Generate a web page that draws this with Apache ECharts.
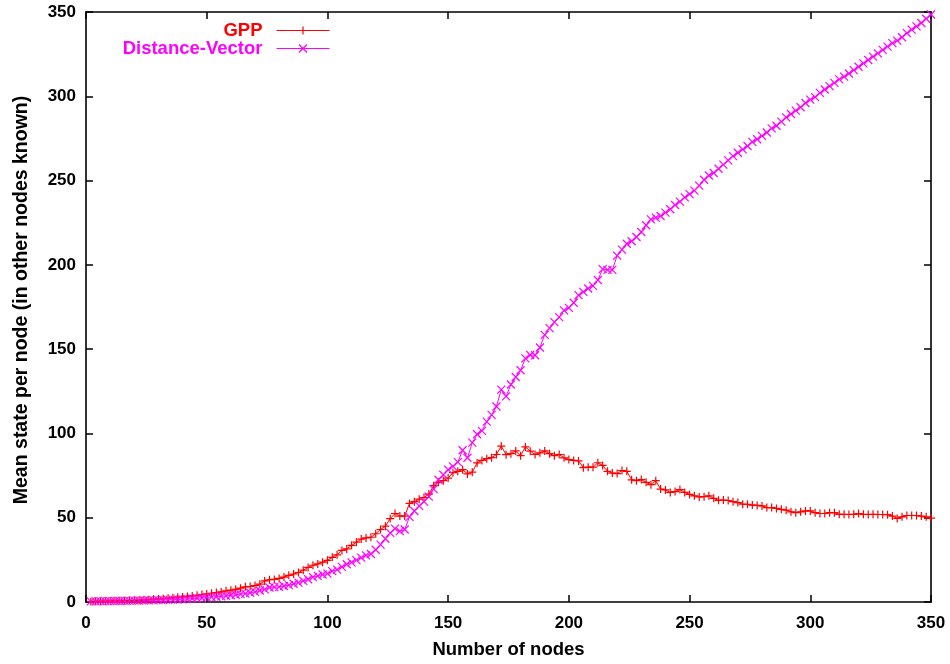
<!DOCTYPE html>
<html>
<head>
<meta charset="utf-8">
<script src="https://cdn.jsdelivr.net/npm/echarts@6/dist/echarts.min.js"></script>
<style>html,body{margin:0;padding:0;background:#fff}#c{width:950px;height:664px}</style>
</head>
<body>
<div id="c"></div>
<script>
var nodes = [2,4,6,8,10,12,14,16,18,20,22,24,26,28,30,32,34,36,38,40,42,44,46,48,50,52,54,56,58,60,62,64,66,68,70,72,74,76,78,80,82,84,86,88,90,92,94,96,98,100,102,104,106,108,110,112,114,116,118,120,122,124,126,128,130,132,134,136,138,140,142,144,146,148,150,152,154,156,158,160,162,164,166,168,170,172,174,176,178,180,182,184,186,188,190,192,194,196,198,200,202,204,206,208,210,212,214,216,218,220,222,224,226,228,230,232,234,236,238,240,242,244,246,248,250,252,254,256,258,260,262,264,266,268,270,272,274,276,278,280,282,284,286,288,290,292,294,296,298,300,302,304,306,308,310,312,314,316,318,320,322,324,326,328,330,332,334,336,338,340,342,344,346,348,350];

var gpp = [
0.3,0.4,0.5,0.5,0.6,0.7,0.7,0.8,0.9,1.0,
1.1,1.3,1.4,1.6,1.8,2.0,2.2,2.5,2.8,3.0,
3.3,3.6,4.0,4.4,4.8,5.2,5.6,6.0,6.6,7.0,
7.5,8.2,9.0,9.2,9.8,10.6,12.5,13.2,13.4,14.0,
14.8,15.8,16.6,17.5,18.9,20.5,21.8,22.6,23.6,24.7,
26.5,28.0,30.6,31.5,33.6,35.5,37.3,38.0,38.4,40.5,
43.0,45.0,49.5,52.5,51.0,51.0,58.5,59.5,61.0,62.0,
64.0,69.0,71.0,72.0,73.5,76.7,77.5,78.5,76.0,77.0,
82.5,84.0,85.0,85.6,87.5,92.5,87.4,88.0,89.6,86.8,
92.0,89.5,87.5,88.5,89.6,88.0,86.8,87.5,85.5,84.5,
84.0,83.7,79.7,80.0,80.0,82.6,81.0,77.5,76.5,76.2,
78.0,77.5,72.5,72.0,72.6,71.0,69.6,72.0,67.0,66.5,
65.0,65.5,66.7,65.0,63.8,63.0,62.3,62.5,63.0,61.5,
60.3,60.5,60.2,59.5,59.0,58.0,58.0,57.5,57.3,57.0,
56.0,56.0,55.5,55.0,54.5,53.5,53.0,53.5,54.0,54.0,
53.0,52.5,52.5,53.0,53.0,52.0,52.0,51.9,52.0,52.5,
52.0,51.9,52.0,51.9,51.9,51.8,51.0,49.6,50.5,51.3,
51.3,51.3,51.0,50.5,49.8];

var dv = [
0.4,0.4,0.5,0.5,0.5,0.6,0.6,0.7,0.7,0.8,
0.8,0.9,1.0,1.0,1.1,1.2,1.3,1.4,1.5,1.6,
1.8,2.0,2.2,2.4,2.7,2.9,3.1,3.3,3.6,4.0,
4.3,4.7,5.0,5.5,6.0,6.8,7.5,8.6,8.8,9.0,
9.5,10.0,10.8,11.5,12.5,13.5,14.8,15.5,16.3,16.8,
18.3,19.2,20.8,22.4,23.5,24.8,26.3,27.7,28.5,31.0,
34.0,37.5,41.0,43.5,42.0,43.0,50.5,54.0,57.0,59.5,
62.5,67.0,72.5,75.5,78.5,80.5,83.0,90.0,85.6,94.5,
99.5,101.5,107.0,111.0,116.0,126.0,122.0,129.0,133.5,137.5,
144.5,146.5,146.4,151.0,158.5,162.5,166.0,169.0,173.0,174.5,
177.5,182.0,184.0,186.0,187.5,191.0,197.5,197.0,197.0,205.5,
209.0,212.5,214.0,216.5,219.5,223.5,227.0,228.0,229.0,231.0,
233.0,235.5,237.5,240.0,242.0,244.0,247.0,250.5,253.0,254.5,
257.0,259.5,262.0,264.5,266.5,268.5,270.5,273.0,274.5,276.5,
278.5,281.0,282.5,285.0,287.5,289.5,291.5,293.5,296.0,298.0,
299.5,302.0,304.0,306.0,308.0,310.0,311.7,313.5,315.5,317.5,
319.5,321.5,323.5,325.5,327.5,329.5,331.5,333.0,335.0,337.5,
339.5,341.5,343.5,346.0,348.5];

var xTicks = [0, 50, 100, 150, 200, 250, 300, 350];
var yTicks = [0, 50, 100, 150, 200, 250, 300, 350];

function pairs(xs, ys) { return xs.map(function (x, i) { return [x, ys[i]]; }); }

var FONT = "'Liberation Sans', Arial, Helvetica, sans-serif";
var PLUS = 'path://M5,0L5,10M0,5L10,5';
var CROSS = 'path://M0,0L10,10M10,0L0,10';

function mkAxis(pos, showLabel, extra) {
  var a = {
    type: 'value', position: pos, min: xTicks[0], max: xTicks[xTicks.length - 1], interval: 50,
    axisLine: { show: true, onZero: false, lineStyle: { color: '#000', width: 1.6 } },
    axisTick: { show: true, inside: true, length: 7, lineStyle: { color: '#000', width: 1.5 } },
    axisLabel: { show: showLabel, color: '#000', fontFamily: FONT, fontWeight: 'bold', fontSize: 17 },
    splitLine: { show: false }
  };
  for (var k in extra) a[k] = extra[k];
  return a;
}

var chart = echarts.init(document.getElementById('c'), null, { renderer: 'canvas' });
chart.setOption({
  animation: false,
  backgroundColor: '#fff',
  grid: { left: 86, right: 19, top: 12, bottom: 59, containLabel: false },
  xAxis: [
    mkAxis('bottom', true, {
      name: 'Number of nodes', nameLocation: 'middle', nameGap: 38,
      nameTextStyle: { color: '#000', fontFamily: FONT, fontWeight: 'bold', fontSize: 18.5 },
      axisLabel: { color: '#000', fontFamily: FONT, fontWeight: 'bold', fontSize: 17, margin: 13 } }),
    mkAxis('top', false, {})
  ],
  yAxis: [
    mkAxis('left', true, {
      min: yTicks[0], max: yTicks[yTicks.length - 1],
      name: 'Mean state per node (in other nodes known)', nameLocation: 'middle', nameGap: 54,
      nameTextStyle: { color: '#000', fontFamily: FONT, fontWeight: 'bold', fontSize: 19.5, padding: [0, 0, 0, 14] },
      axisLabel: { color: '#000', fontFamily: FONT, fontWeight: 'bold', fontSize: 17, margin: 10 } }),
    mkAxis('right', false, { min: yTicks[0], max: yTicks[yTicks.length - 1] })
  ],
  legend: [
    { data: ['GPP'], align: 'right', right: 620, top: 21, padding: 0, itemWidth: 53, itemHeight: 10, orient: 'vertical',
      lineStyle: { color: '#ff0000', width: 1 },
      itemStyle: { color: '#ff0000', borderColor: '#ff0000', borderWidth: 1.2 },
      textStyle: { color: '#ff0000', fontFamily: FONT, fontWeight: 'bold', fontSize: 18.5, padding: [0, 9, 0, 0] } },
    { data: ['Distance-Vector'], align: 'right', right: 620, top: 39, padding: 0, itemWidth: 53, itemHeight: 10, orient: 'vertical',
      lineStyle: { color: '#ff00ff', width: 1 },
      itemStyle: { color: '#ff00ff', borderColor: '#ff00ff', borderWidth: 1.2 },
      textStyle: { color: '#ff00ff', fontFamily: FONT, fontWeight: 'bold', fontSize: 18.5, padding: [0, 9, 0, 0] } }
  ],
  series: [
    { name: 'GPP', type: 'line', data: pairs(nodes, gpp), xAxisIndex: 0, yAxisIndex: 0,
      symbol: PLUS, symbolSize: 8, showAllSymbol: true, clip: false,
      lineStyle: { color: '#ff0000', width: 1 },
      itemStyle: { color: '#ff0000', borderColor: '#ff0000', borderWidth: 1.2 } },
    { name: 'Distance-Vector', type: 'line', data: pairs(nodes, dv), xAxisIndex: 0, yAxisIndex: 0,
      symbol: CROSS, symbolSize: 8, showAllSymbol: true, clip: false,
      lineStyle: { color: '#ff00ff', width: 1 },
      itemStyle: { color: '#ff00ff', borderColor: '#ff00ff', borderWidth: 1.2 } }
  ]
});
</script>
</body>
</html>
